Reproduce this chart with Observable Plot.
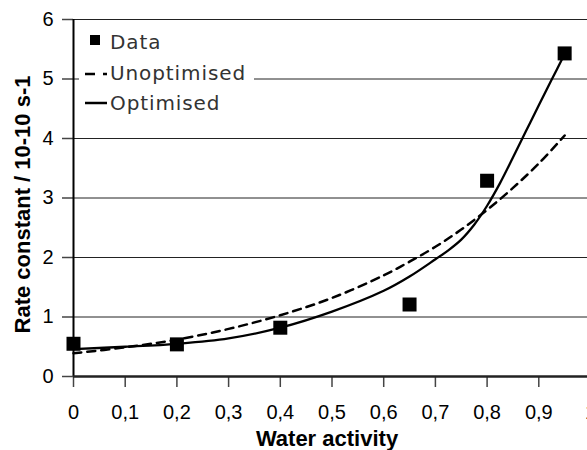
<!DOCTYPE html>
<html>
<head>
<meta charset="utf-8">
<script src="https://cdn.jsdelivr.net/npm/d3@7"></script>
<script src="https://cdn.jsdelivr.net/npm/@observablehq/plot@0.6"></script>
<style>
  html, body { margin: 0; padding: 0; background: #fff; overflow: hidden; }
  #chart { position: relative; width: 587px; height: 450px; }
</style>
</head>
<body>
<div id="chart"></div>
<script>
// Measured data points
const dataX = [0, 0.2, 0.4, 0.65, 0.8, 0.95];
const dataY = [0.55, 0.54, 0.82, 1.21, 3.29, 5.43];

// Model curves
const unoptX       = [0, 0.1, 0.2, 0.3, 0.4, 0.5, 0.6, 0.65, 0.7, 0.75, 0.8, 0.85, 0.9, 0.95];
const unoptimised  = [0.39, 0.49, 0.62, 0.80, 1.03, 1.32, 1.70, 1.93, 2.18, 2.47, 2.80, 3.17, 3.58, 4.05];
const optX         = [0, 0.1, 0.2, 0.3, 0.4, 0.5, 0.6, 0.65, 0.7, 0.725, 0.75, 0.775, 0.8, 0.825, 0.85, 0.875, 0.9, 0.925, 0.95];
const optimised    = [0.46, 0.50, 0.55, 0.64, 0.82, 1.09, 1.44, 1.68, 1.97, 2.12, 2.30, 2.55, 2.87, 3.25, 3.68, 4.12, 4.56, 4.99, 5.42];

const xTicks = [0, 0.1, 0.2, 0.3, 0.4, 0.5, 0.6, 0.7, 0.8, 0.9, 1];
const yTicks = [0, 1, 2, 3, 4, 5, 6];
const gridY = [1, 2, 3, 4, 5, 6];

const xLabel = "Water activity";
const yLabel = "Rate constant / 10-10 s-1";
const legendLabels = ["Data", "Unoptimised", "Optimised"];

const points = dataX.map((x, i) => ({x, y: dataY[i]}));
const unopt = unoptX.map((x, i) => ({x, y: unoptimised[i]}));
const opt = optX.map((x, i) => ({x, y: optimised[i]}));

const fmtX = d => String(d).replace(".", ",");
const fmtY = d => String(d);

const chart = Plot.plot({
  width: 587,
  height: 450,
  marginLeft: 73,
  marginRight: -3,
  marginTop: 19,
  marginBottom: 74,
  style: {fontFamily: "'Liberation Sans', Arial, sans-serif", fontSize: "20px", color: "#000", background: "#fff", overflow: "visible"},
  x: {domain: [0, 1]},
  y: {domain: [0, 6]},
  marks: [
    Plot.ruleY(gridY, {stroke: "#222", strokeWidth: 1}),
    Plot.axisX({ticks: xTicks, tickFormat: fmtX, tickSize: 11, tickPadding: 17, label: null, fontSize: 20, stroke: "#444", strokeWidth: 1.5}),
    Plot.axisY({ticks: yTicks, tickFormat: fmtY, tickSize: 11, tickPadding: 9, label: null, fontSize: 20, stroke: "#444", strokeWidth: 1.5}),
    Plot.ruleX([0], {stroke: "#000", strokeWidth: 2}),
    Plot.line(unopt, {x: "x", y: "y", stroke: "#000", strokeWidth: 2.5, strokeDasharray: "8,6", curve: "catmull-rom"}),
    Plot.line(opt, {x: "x", y: "y", stroke: "#000", strokeWidth: 2.3, curve: "catmull-rom"}),
    Plot.ruleY([0], {stroke: "#222", strokeWidth: 2.5}),
    Plot.dot(points, {x: "x", y: "y", symbol: "square", r: 7.9, fill: "#000", stroke: "none"}),
    Plot.text([xLabel], {frameAnchor: "bottom", textAnchor: "middle", dx: -5, dy: 62, fontWeight: "bold", fontSize: 22, fill: "#000", lineAnchor: "middle"}),
    Plot.text([yLabel], {frameAnchor: "left", textAnchor: "middle", rotate: -90, dx: -51, dy: 6.5, fontWeight: "bold", fontSize: 22, fill: "#000", lineAnchor: "middle"})
  ]
});

// Legend drawn inside the plot's SVG
const svg = d3.select(chart);
const lg = svg.append("g").attr("class", "legend").attr("text-anchor", "start");
lg.append("rect").attr("x", 79).attr("y", 27).attr("width", 175).attr("height", 92).attr("fill", "#fff");
const textStyle = sel => sel
  .attr("text-anchor", "start")
  .attr("font-family", "'DejaVu Sans', Verdana, sans-serif")
  .attr("font-size", 20)
  .attr("letter-spacing", 0.9)
  .attr("fill", "#333");
lg.append("rect").attr("x", 90).attr("y", 35).attr("width", 10).attr("height", 10).attr("fill", "#000");
lg.append("text").attr("x", 110).attr("y", 49).text(legendLabels[0]).call(textStyle);
lg.append("line").attr("x1", 85).attr("x2", 108).attr("y1", 74).attr("y2", 74)
  .attr("stroke", "#000").attr("stroke-width", 2.5).attr("stroke-dasharray", "10,8,4,20");
lg.append("text").attr("x", 110).attr("y", 80).text(legendLabels[1]).call(textStyle);
lg.append("line").attr("x1", 85).attr("x2", 107).attr("y1", 103).attr("y2", 103)
  .attr("stroke", "#000").attr("stroke-width", 2.5);
lg.append("text").attr("x", 110).attr("y", 110).text(legendLabels[2]).call(textStyle);

document.getElementById("chart").appendChild(chart);
</script>
</body>
</html>
